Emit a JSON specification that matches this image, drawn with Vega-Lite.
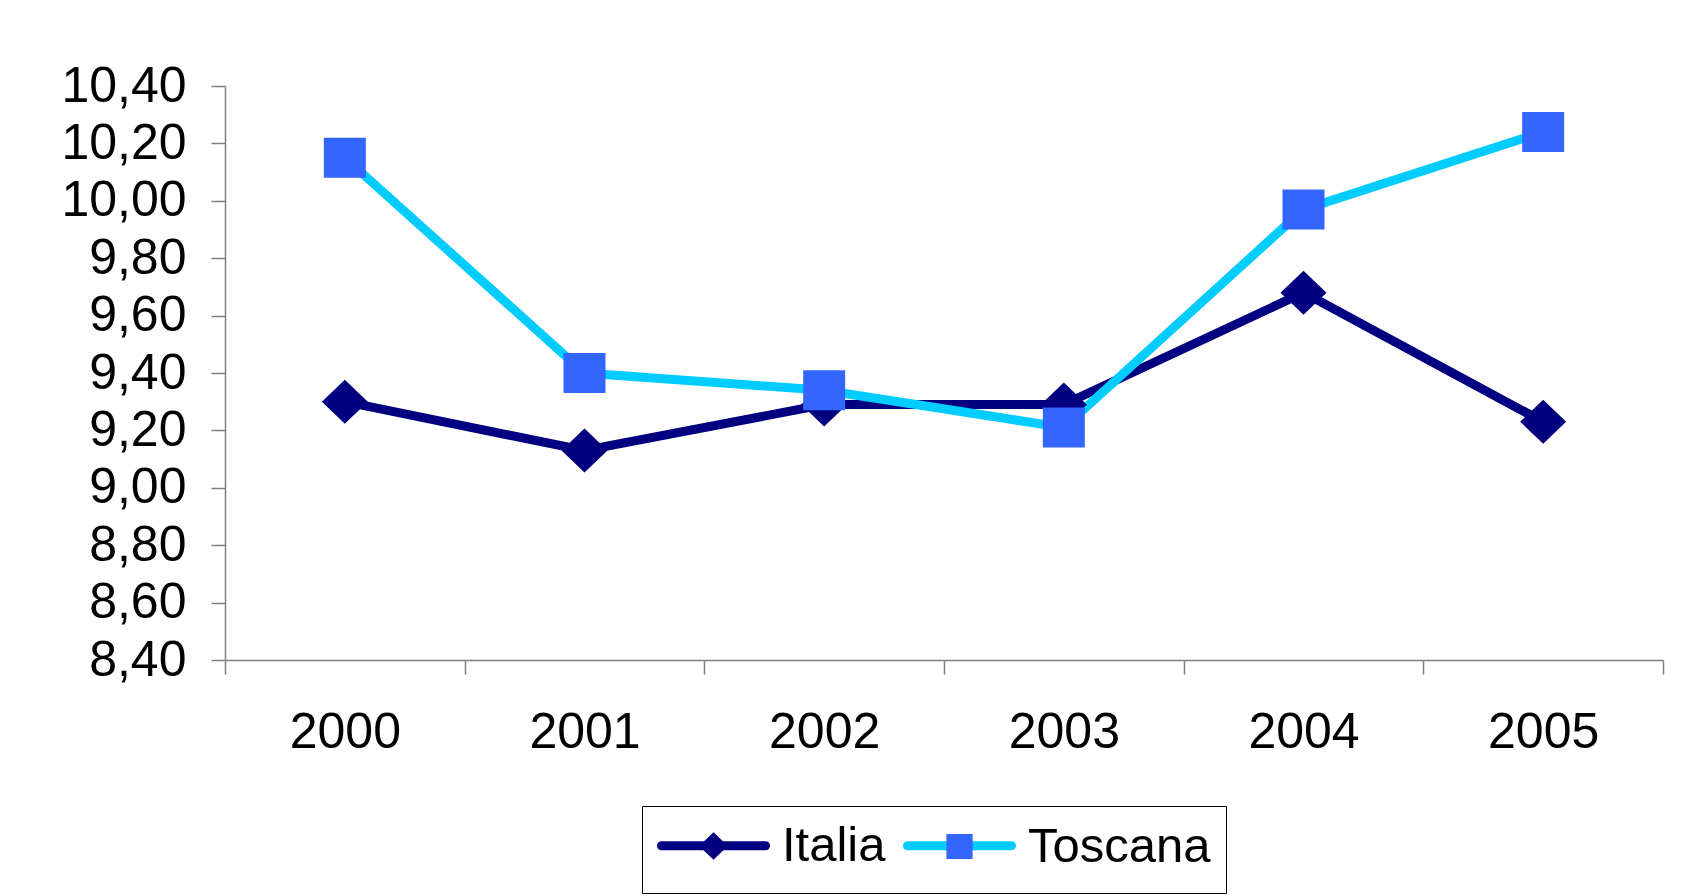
{
  "$schema": "https://vega.github.io/schema/vega-lite/v6.json",
  "width": 1438,
  "height": 574,
  "autosize": {"type": "none"},
  "padding": {"left": 225, "top": 86, "right": 25, "bottom": 236},
  "background": "white",
  "config": {
    "view": {"stroke": null},
    "font": "Liberation Sans",
    "axis": {"grid": false, "domainColor": "#808080", "tickColor": "#808080", "domainWidth": 1.5, "tickWidth": 1.5, "labelColor": "black", "labelFont": "Liberation Sans", "title": null}
  },
  "data": {
    "values": [
      {"anno": "2000", "regione": "Italia", "valore": 9.30},
      {"anno": "2001", "regione": "Italia", "valore": 9.13},
      {"anno": "2002", "regione": "Italia", "valore": 9.29},
      {"anno": "2003", "regione": "Italia", "valore": 9.29},
      {"anno": "2004", "regione": "Italia", "valore": 9.68},
      {"anno": "2005", "regione": "Italia", "valore": 9.23},
      {"anno": "2000", "regione": "Toscana", "valore": 10.15},
      {"anno": "2001", "regione": "Toscana", "valore": 9.40},
      {"anno": "2002", "regione": "Toscana", "valore": 9.34},
      {"anno": "2003", "regione": "Toscana", "valore": 9.21},
      {"anno": "2004", "regione": "Toscana", "valore": 9.97},
      {"anno": "2005", "regione": "Toscana", "valore": 10.24}
    ]
  },
  "encoding": {
    "x": {
      "field": "anno", "type": "nominal",
      "scale": {"type": "band", "paddingInner": 0, "paddingOuter": 0},
      "axis": {"labelAngle": 0, "tickBand": "extent", "tickSize": 14, "labelPadding": 33, "labelFontSize": 50, "title": null}
    },
    "y": {
      "field": "valore", "type": "quantitative",
      "scale": {"domain": [8.4, 10.4], "zero": false, "nice": false},
      "axis": {
        "values": [8.4, 8.6, 8.8, 9.0, 9.2, 9.4, 9.6, 9.8, 10.0, 10.2, 10.4],
        "labelExpr": "replace(format(datum.value, '.2f'), '.', ',')",
        "tickSize": 14, "labelPadding": 25, "labelFontSize": 50, "title": null
      }
    }
  },
  "layer": [
    {
      "mark": {"type": "line", "strokeWidth": 9},
      "encoding": {
        "color": {
          "field": "regione", "type": "nominal",
          "scale": {"range": ["#000080", "#00CCFF"]},
          "legend": {
            "title": null, "orient": "none", "direction": "horizontal",
            "legendX": 417, "legendY": 720,
            "padding": 15,
            "symbolType": "M-4.16,0L4.16,0",
            "symbolSize": 625, "symbolStrokeWidth": 9,
            "symbolOffset": 32, "labelOffset": 44, "columnPadding": 3,
            "labelFontSize": 49, "labelLimit": 500, "labelFont": "Liberation Sans", "labelOpacity": 0,
            "encode": {"symbols": {"update": {"strokeCap": {"value": "round"}}}}
          }
        }
      }
    },
    {
      "mark": {"type": "point", "filled": true, "opacity": 1, "size": 1600},
      "encoding": {
        "fill": {
          "field": "regione", "type": "nominal",
          "scale": {"domain": ["Italia", "Toscana"], "range": ["#000080", "#3366FF"]},
          "legend": {
            "title": null, "orient": "none", "direction": "horizontal",
            "legendX": 417, "legendY": 720,
            "padding": 15,
            "symbolSize": 625, "symbolStrokeWidth": 9, "symbolStrokeColor": "transparent",
            "symbolOffset": 32, "labelOffset": 44, "columnPadding": 3,
            "labelFontSize": 49, "labelLimit": 500, "labelFont": "Liberation Sans", "labelColor": "black",
            "strokeColor": "black"
          }
        },
        "shape": {
          "field": "regione", "type": "nominal",
          "scale": {"domain": ["Italia", "Toscana"], "range": ["M-4.16,0L4.16,0M-1.15,0L0,-1.1L1.15,0L0,1.1Z", "M-4.16,0L4.16,0M-1.05,-1L1.05,-1L1.05,1L-1.05,1Z"]},
          "legend": {
            "title": null, "orient": "none", "direction": "horizontal",
            "legendX": 417, "legendY": 720,
            "padding": 15,
            "symbolSize": 625, "symbolStrokeWidth": 9, "symbolStrokeColor": "transparent",
            "symbolOffset": 32, "labelOffset": 44, "columnPadding": 3,
            "labelFontSize": 49, "labelLimit": 500, "labelFont": "Liberation Sans", "labelColor": "black",
            "strokeColor": "black"
          }
        }
      }
    }
  ]
}
